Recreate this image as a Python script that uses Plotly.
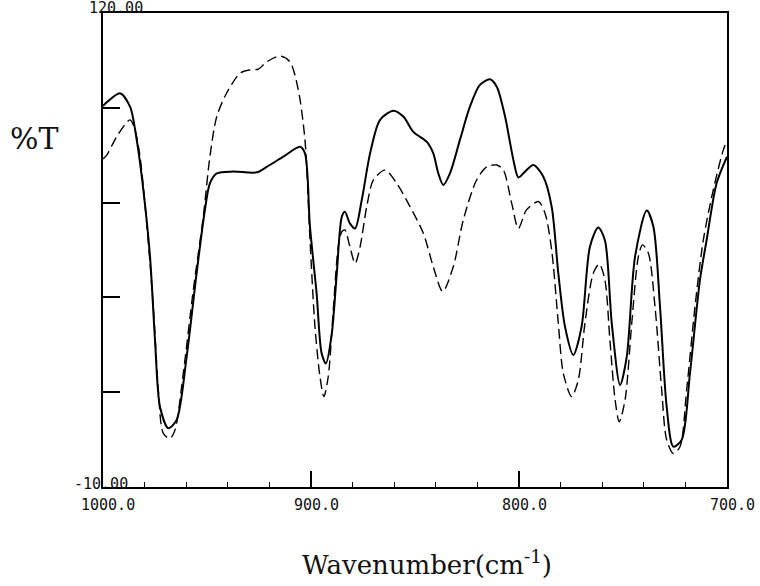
import plotly.graph_objects as go

# Solid spectrum (wavenumber, %T)
solid_wn = [1000, 998.2, 991.8, 987, 983.8, 980.6, 977.4, 975, 972.6, 968.6, 964.6, 959.8, 955, 951,
            948.6, 945.3, 937.4, 926.1, 921.3, 913.3, 905.3, 902.9, 900.5, 897.3, 894.9, 892.8, 890,
            887.6, 885.2, 883.7, 881.3, 878.8, 875.6, 871.6, 866.8, 860.4, 855.6, 850.8, 844.4, 841.2,
            838.8, 836.4, 833.2, 828.4, 823.6, 818.8, 814, 810.7, 806.7, 802.7, 800.3, 797.1, 793.1,
            788.3, 784.3, 781.1, 777.9, 773.9, 769.9, 765.9, 761.9, 758.7, 755.4, 751.4, 748.2, 744.2,
            738.6, 735.4, 732.2, 729, 725.8, 721.8, 717.8, 713, 709.8, 705, 700]
solid_t = [94.5, 95.5, 98.0, 94.3, 85.2, 71.5, 53.2, 30.3, 12.0, 6.1, 8.4, 25.7, 48.6, 66.0, 73.3,
           76.0, 76.5, 76.3, 77.8, 80.6, 83.3, 81.5, 61.4, 43.1, 26.7, 23.9, 32.1, 48.6, 64.1, 65.5,
           62.3, 60.9, 68.7, 81.5, 90.7, 93.2, 91.6, 87.4, 84.7, 81.5, 76.0, 72.8, 76.0, 85.2, 94.3,
           100.3, 101.8, 99.8, 91.6, 79.7, 74.9, 76.5, 78.3, 75.1, 66.9, 48.6, 34.0, 26.2, 34.0, 55.9,
           61.2, 57.7, 34.9, 18.0, 25.7, 53.2, 65.8, 61.4, 39.4, 12.0, 1.05, 2.9, 21.2, 46.8, 57.7,
           73.3, 80.6]

# Dashed spectrum (wavenumber, %T)
dashed_wn = [1000, 998.2, 993.4, 987, 984.6, 982.2, 979, 975.8, 973.4, 971, 967.8, 965.4, 961.4,
             956.6, 951.8, 948.6, 945.3, 940.6, 934.1, 929.3, 925.3, 921.3, 914.9, 910.1, 906.1,
             902.9, 900.5, 898.1, 895.7, 893.8, 891.7, 889.3, 886.9, 885.2, 883.7, 881.3, 878.8,
             876.4, 873.2, 870, 864.4, 858.8, 852.4, 846, 841.2, 836.7, 831.6, 826.8, 820.4, 815.5,
             810.7, 807.5, 803.5, 800.3, 796.4, 790.7, 787.5, 784.3, 781.1, 778.7, 774.7, 771.5,
             768.3, 764.3, 761.4, 758.7, 756.3, 753.8, 751.8, 749.0, 745.8, 742.6, 740.6, 737.8,
             734.6, 731.4, 729, 725.8, 722.6, 719.4, 715.4, 711.4, 706.6, 701.8, 700]
dashed_t = [80.0, 81.0, 86.1, 90.7, 87.9, 80.6, 62.3, 39.4, 16.6, 4.7, 3.3, 5.6, 21.2, 44.0, 64.1,
            80.6, 91.6, 98.0, 103.5, 104.4, 104.6, 106.6, 108.2, 106.6, 98.9, 85.2, 58.0, 34.0, 20.3,
            14.8, 20.3, 38.5, 55.9, 60.0, 60.5, 55.9, 51.3, 55.9, 66.9, 74.2, 76.9, 73.3, 66.9, 59.6,
            50.4, 43.6, 50.4, 63.2, 74.2, 77.8, 78.3, 76.9, 67.8, 60.9, 66.0, 68.3, 65.1, 55.0, 34.9,
            21.2, 14.8, 19.3, 34.9, 48.6, 51.2, 46.8, 30.3, 13.9, 7.9, 13.9, 34.9, 53.2, 56.4, 54.1,
            39.4, 16.6, 2.9, -0.8, 1.05, 16.6, 39.4, 57.7, 71.5, 82.4, 85.0]

x_tick_vals = [1000, 900, 800, 700]
x_tick_text = ["1000.0", "900.0", "800.0", "700.0"]
y_min, y_max = -10, 120
y_tick_text = ["-10.00", "120.00"]

fig = go.Figure()
fig.add_trace(go.Scatter(x=solid_wn, y=solid_t, mode="lines",
                         line=dict(color="black", width=2, shape="spline", smoothing=0.8),
                         showlegend=False, hoverinfo="skip"))
fig.add_trace(go.Scatter(x=dashed_wn, y=dashed_t, mode="lines",
                         line=dict(color="black", width=1.4, dash="10px,5px", shape="spline", smoothing=0.8),
                         showlegend=False, hoverinfo="skip"))

mono = dict(family="DejaVu Sans Mono", size=15, color="#111")
ann = []
for v, t in zip(x_tick_vals, x_tick_text):
    ann.append(dict(x=v, y=y_min, xref="x", yref="y", text=t, showarrow=False, font=mono,
                    xshift=5, yshift=-18, xanchor="center", yanchor="middle"))
ann.append(dict(x=1000, y=y_max, xref="x", yref="y", text=y_tick_text[1], showarrow=False, font=mono,
                xshift=13, yshift=5, xanchor="center", yanchor="middle"))
ann.append(dict(x=1000, y=y_min, xref="x", yref="y", text=y_tick_text[0], showarrow=False, font=mono,
                xshift=-2, yshift=3, xanchor="center", yanchor="middle"))
ann.append(dict(x=-0.109, y=0.736, xref="paper", yref="paper", text="%T", showarrow=False,
                font=dict(family="DejaVu Serif", size=30, color="#111"), xanchor="center", yanchor="middle"))
ann.append(dict(x=0.52, y=-0.16, xref="paper", yref="paper", text="Wavenumber(cm<sup>-1</sup>)",
                showarrow=False, font=dict(family="DejaVu Serif", size=26, color="#111"),
                xanchor="center", yanchor="middle"))

fig.update_layout(
    width=760, height=586,
    margin=dict(l=103, r=33, t=13, b=99),
    paper_bgcolor="white", plot_bgcolor="white",
    annotations=ann,
    xaxis=dict(range=[1000, 700], showgrid=False, zeroline=False, showline=True, mirror=True,
               linecolor="black", linewidth=2, ticks="inside", ticklen=16, tickwidth=1.5,
               tickcolor="black", tickvals=x_tick_vals, showticklabels=False,
               minor=dict(ticks="inside", ticklen=5, tick0=1000, dtick=20, tickcolor="black", tickwidth=1)),
    yaxis=dict(range=[y_min, y_max], showgrid=False, zeroline=False, showline=True, mirror=True,
               linecolor="black", linewidth=2, ticks="inside", ticklen=17, tickwidth=1.5,
               tickcolor="black", tick0=y_min, dtick=26, showticklabels=False),
)

# remove the browser's default 8px body margin so the figure fills the window exactly
fig.write_html("out.html",
               config={"displayModeBar": False},
               post_script="document.body.style.margin='0';document.body.style.overflow='hidden';")
